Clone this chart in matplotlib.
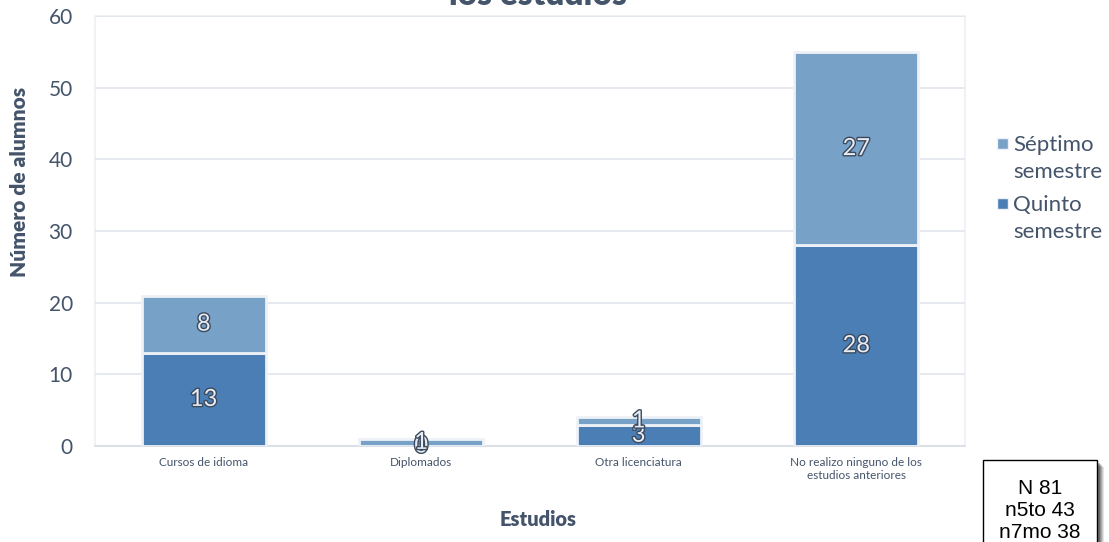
import matplotlib
matplotlib.use("Agg")
import matplotlib.pyplot as plt
import matplotlib.patheffects as pe
from matplotlib.patches import Rectangle
import numpy as np

categories = ["Cursos de idioma", "Diplomados", "Otra licenciatura",
              "No realizo ninguno de los\nestudios anteriores"]
quinto = [13, 0, 3, 28]
septimo = [8, 1, 1, 27]
series_names = ["Quinto\nsemestre", "Séptimo\nsemestre"]
yticks = [0, 10, 20, 30, 40, 50, 60]

plt.rcParams['font.family'] = ['Lato', 'DejaVu Sans']
txt = '#44546A'
c_q = '#4A7EB4'
c_s = '#77A1C7'

W, H = 1109, 542
fig = plt.figure(figsize=(W / 100, H / 100), dpi=100)
ax = fig.add_axes([95 / W, 1 - 446 / H, 870 / W, 430 / H])

x = np.arange(len(categories))
w = 0.57
b1 = ax.bar(x, quinto, w, color=c_q, edgecolor='#EEF2F7', linewidth=2, zorder=3)
b2 = ax.bar(x, septimo, w, bottom=quinto, color=c_s, edgecolor='#EEF2F7', linewidth=2, zorder=3)

effects = [pe.withStroke(linewidth=2.0, foreground='#3B4A5E')]
for i in range(len(categories)):
    for val, base in ((quinto[i], 0), (septimo[i], quinto[i])):
        ax.text(x[i], base + val / 2, str(val), ha='center', va='center',
                fontsize=17, color='#E9EDF3', path_effects=effects, zorder=5)

ax.set_ylim(0, 60)
ax.set_xlim(-0.5, len(categories) - 0.5)
ax.set_yticks(yticks)
ax.set_xticks(x)
ax.set_xticklabels(categories, fontsize=8.5, color=txt)
ax.tick_params(axis='y', labelsize=15, colors=txt, length=0, pad=16)
ax.tick_params(axis='x', length=0, pad=8)
ax.yaxis.grid(True, color='#E1E6EE', linewidth=1.2, zorder=0)
for s in ax.spines.values():
    s.set_visible(False)
ax.spines['bottom'].set_visible(True)
ax.spines['bottom'].set_color('#D9DEE6')
ax.spines['bottom'].set_linewidth(1.2)
ax.add_patch(Rectangle((0, 0), 1, 1, transform=ax.transAxes, fill=False,
                       edgecolor='#F0F2F5', linewidth=1.5, zorder=1, clip_on=False))

fig.text(20 / W, 1 - 182 / H, 'Número de alumnos', rotation=90, ha='center', va='center',
         fontsize=15, fontweight='heavy', color=txt)
fig.text(538 / W, 1 - 520 / H, 'Estudios', ha='center', va='center',
         fontsize=14.5, fontweight='heavy', color=txt)

fig.text(538 / W, 1 + 5 / H, 'los estudios', ha='center', va='center', fontsize=24,
         fontweight='heavy', color=txt)

# legend drawn manually (square aligned with first line of each entry)
leg_items = [(c_s, series_names[1], 144), (c_q, series_names[0], 204)]
for col, lab, yc in leg_items:
    fig.patches.append(Rectangle((997 / W, 1 - (yc + 5) / H), 11 / W, 11 / H,
                                 transform=fig.transFigure, facecolor=col,
                                 edgecolor='#EEF2F7', linewidth=1))
    fig.text(1013 / W, 1 - (yc - 9) / H, lab, ha='left', va='top', fontsize=16,
             color=txt, linespacing=1.45)

# N box with soft shadow
bx0, bx1, by0, by1 = 983, 1097, 460, 548
for k, a in enumerate([0.10, 0.12, 0.15, 0.18, 0.22]):
    off = 7 - k
    fig.patches.append(Rectangle(((bx0 + off) / W, 1 - (by1 + off) / H),
                                 (bx1 - bx0) / W, (by1 - by0) / H,
                                 transform=fig.transFigure, facecolor='black',
                                 alpha=a, edgecolor='none'))
fig.patches.append(Rectangle((bx0 / W, 1 - by1 / H), (bx1 - bx0) / W, (by1 - by0) / H,
                             transform=fig.transFigure, facecolor='white',
                             edgecolor='black', linewidth=1))
fig.text((bx0 + bx1) / 2 / W, 1 - 510 / H, 'N 81\nn5to 43\nn7mo 38', ha='center',
         va='center', fontsize=15, family='Liberation Sans', color='black',
         linespacing=1.2)

fig.savefig('out.png', dpi=100)
